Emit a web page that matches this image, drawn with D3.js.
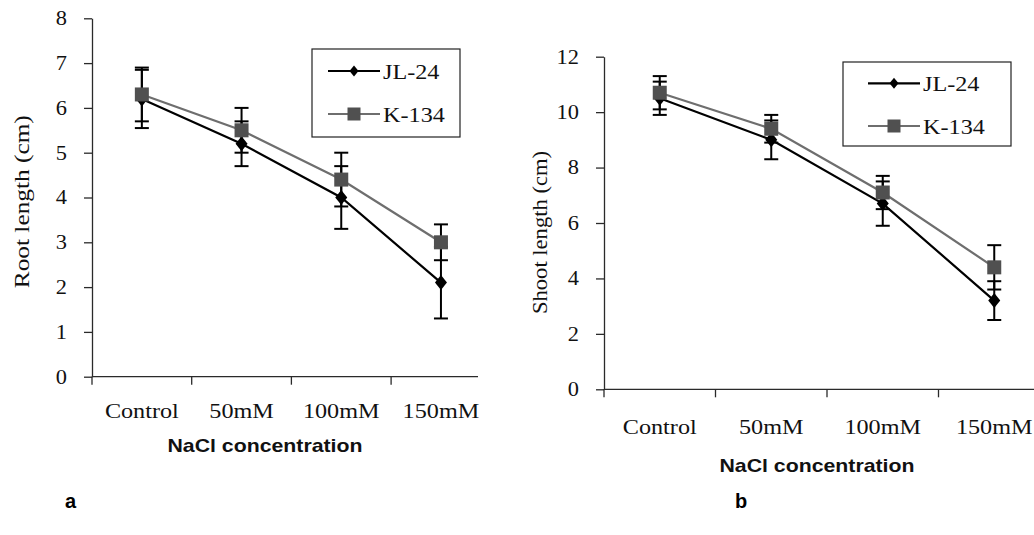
<!doctype html>
<html>
<head>
<meta charset="utf-8">
<title>Root and shoot length under NaCl stress</title>
<style>
    body { margin: 0; background: #fff; }
    svg { display: block; }
</style>
</head>
<body>
<svg id="chart" width="1034" height="535"></svg>
<script src="https://cdn.jsdelivr.net/npm/d3@7"></script>
<script>
const concentrations = ["Control", "50mM", "100mM", "150mM"];
const varieties = ["JL-24", "K-134"];

// panel a: root length (cm)
const rootJL = [6.2, 5.2, 4.0, 2.1];
const rootJLErr = [0.65, 0.5, 0.7, 0.8];
const rootK = [6.3, 5.5, 4.4, 3.0];
const rootKErr = [0.6, 0.5, 0.6, 0.4];
const rootTicks = [0, 1, 2, 3, 4, 5, 6, 7, 8];

// panel b: shoot length (cm)
const shootJL = [10.5, 9.0, 6.7, 3.2];
const shootJLErr = [0.6, 0.7, 0.8, 0.7];
const shootK = [10.7, 9.4, 7.1, 4.4];
const shootKErr = [0.6, 0.5, 0.6, 0.8];
const shootTicks = [0, 2, 4, 6, 8, 10, 12];

const serif = "'Liberation Serif', 'Times New Roman', serif";
const sans = "'Liberation Sans', Arial, sans-serif";
const grayLine = "#6e6e6e", squareFill = "#505050", axisColor = "#2a2a2a";

const svg = d3.select("#chart");

// the source picture is a bit wider than tall, stretch text to match
function stretch(sel, k) {
    sel.each(function() {
        const w = this.getComputedTextLength();
        d3.select(this).attr("textLength", w * k).attr("lengthAdjust", "spacingAndGlyphs");
    });
}

const diamond = (rx, ry) => `M0,${-ry}L${rx},0L0,${ry}L${-rx},0Z`;

function renderPanel(p) {
    const g = svg.append("g");
    const x = d3.scaleBand(concentrations, [p.left, p.left + 4 * p.band]);
    const y = d3.scaleLinear([0, p.yMax], [p.bottom, p.top]);
    const cx = d => x(d) + x.bandwidth() / 2;

    // y axis
    const yAxis = g.append("g")
        .attr("transform", `translate(${p.left},0)`)
        .call(d3.axisLeft(y).tickValues(p.ticks).tickSize(8).tickSizeOuter(0).tickPadding(17));
    yAxis.selectAll("path, line").attr("stroke", axisColor).attr("stroke-width", 1.3);
    yAxis.selectAll("text")
        .attr("font-family", serif).attr("font-size", 20).attr("fill", "#111")
        .call(stretch, 1.12);

    // x axis line and band ticks
    g.append("line")
        .attr("x1", p.left).attr("x2", p.axisEnd)
        .attr("y1", p.bottom).attr("y2", p.bottom)
        .attr("stroke", axisColor).attr("stroke-width", 1.3);
    g.append("g").selectAll("line")
        .data(concentrations)
        .join("line")
        .attr("x1", d => x(d)).attr("x2", d => x(d))
        .attr("y1", p.bottom).attr("y2", p.bottom + 8)
        .attr("stroke", axisColor).attr("stroke-width", 1.3);

    const xAxis = g.append("g")
        .attr("transform", `translate(0,${p.bottom})`)
        .call(d3.axisBottom(x).tickSize(0).tickPadding(p.labelPad));
    xAxis.select(".domain").remove();
    xAxis.selectAll("text")
        .attr("font-family", serif).attr("font-size", 22).attr("fill", "#111")
        .call(stretch, 1.1);

    // axis titles
    g.append("text")
        .attr("transform", `translate(${p.yTitleX},${p.yTitleY}) rotate(-90)`)
        .attr("text-anchor", "middle")
        .attr("font-family", serif).attr("font-size", 22).attr("fill", "#111")
        .attr("textLength", p.yTitleLen).attr("lengthAdjust", "spacingAndGlyphs")
        .text(p.yTitle);
    g.append("text")
        .attr("x", p.xTitleX).attr("y", p.xTitleY)
        .attr("text-anchor", "middle")
        .attr("font-family", sans).attr("font-weight", "bold").attr("font-size", 19).attr("fill", "#111")
        .text("NaCl concentration")
        .call(stretch, 1.12);

    // panel letter
    g.append("text")
        .attr("x", p.letterX).attr("y", 508)
        .attr("font-family", sans).attr("font-weight", "bold").attr("font-size", 20)
        .text(p.letter);

    const series = [
        {name: varieties[1], values: p.k, err: p.kErr, color: grayLine},
        {name: varieties[0], values: p.jl, err: p.jlErr, color: "#000"}
    ];

    // error bars
    series.forEach(s => {
        const eb = g.append("g").attr("stroke", "#000").attr("stroke-width", 2);
        concentrations.forEach((c, i) => {
            const lo = y(s.values[i] - s.err[i]), hi = y(s.values[i] + s.err[i]);
            eb.append("line").attr("x1", cx(c)).attr("x2", cx(c)).attr("y1", lo).attr("y2", hi);
            eb.append("line").attr("x1", cx(c) - 7).attr("x2", cx(c) + 7).attr("y1", lo).attr("y2", lo);
            eb.append("line").attr("x1", cx(c) - 7).attr("x2", cx(c) + 7).attr("y1", hi).attr("y2", hi);
        });
    });

    const line = d3.line().x((d, i) => cx(concentrations[i])).y(d => y(d));
    series.forEach(s => {
        g.append("path")
            .attr("d", line(s.values))
            .attr("fill", "none")
            .attr("stroke", s.color)
            .attr("stroke-width", 2.2);
    });

    // markers
    g.append("g").selectAll("path")
        .data(p.jl)
        .join("path")
        .attr("transform", (d, i) => `translate(${cx(concentrations[i])},${y(d)})`)
        .attr("d", diamond(6, 7.5))
        .attr("fill", "#000");
    g.append("g").selectAll("rect")
        .data(p.k)
        .join("rect")
        .attr("x", (d, i) => cx(concentrations[i]) - 7)
        .attr("y", d => y(d) - 7)
        .attr("width", 14).attr("height", 14)
        .attr("fill", squareFill);

    // legend
    const lg = p.legend;
    g.append("rect")
        .attr("x", lg.x).attr("y", lg.y).attr("width", lg.w).attr("height", lg.h)
        .attr("fill", "#fff").attr("stroke", "#222").attr("stroke-width", 1.2);
    const rows = [
        {name: varieties[0], color: "#000", dy: lg.row1},
        {name: varieties[1], color: grayLine, dy: lg.row2}
    ];
    rows.forEach((r, i) => {
        const yy = lg.y + r.dy;
        g.append("line")
            .attr("x1", lg.lineX).attr("x2", lg.lineX + 52)
            .attr("y1", yy).attr("y2", yy)
            .attr("stroke", r.color).attr("stroke-width", 2.2);
        if (i === 0) {
            g.append("path")
                .attr("transform", `translate(${lg.lineX + 26},${yy})`)
                .attr("d", diamond(4.5, 5.5)).attr("fill", "#000");
        } else {
            g.append("rect")
                .attr("x", lg.lineX + 26 - 6.5).attr("y", yy - 6.5)
                .attr("width", 13).attr("height", 13).attr("fill", squareFill);
        }
        g.append("text")
            .attr("x", lg.lineX + 55).attr("y", yy + 8)
            .attr("font-family", serif).attr("font-size", 22).attr("fill", "#111")
            .text(r.name)
            .call(stretch, 1.1);
    });
}

renderPanel({
    left: 92, band: 99.7, axisEnd: 478, top: 18.3, bottom: 376.7, yMax: 8, ticks: rootTicks,
    labelPad: 26, yTitle: "Root length (cm)", yTitleX: 29, yTitleY: 201.7, yTitleLen: 173,
    xTitleX: 265, xTitleY: 451.7, letter: "a", letterX: 65,
    jl: rootJL, jlErr: rootJLErr, k: rootK, kErr: rootKErr,
    legend: {x: 312, y: 49, w: 148, h: 88, lineX: 328, row1: 22, row2: 65}
});

renderPanel({
    left: 604, band: 111.5, axisEnd: 1034, top: 56.7, bottom: 389.3, yMax: 12, ticks: shootTicks,
    labelPad: 29.5, yTitle: "Shoot length (cm)", yTitleX: 547, yTitleY: 232.5, yTitleLen: 163,
    xTitleX: 817, xTitleY: 471.7, letter: "b", letterX: 735,
    jl: shootJL, jlErr: shootJLErr, k: shootK, kErr: shootKErr,
    legend: {x: 843, y: 62, w: 168, h: 84, lineX: 868, row1: 21.3, row2: 64}
});
</script>
</body>
</html>
